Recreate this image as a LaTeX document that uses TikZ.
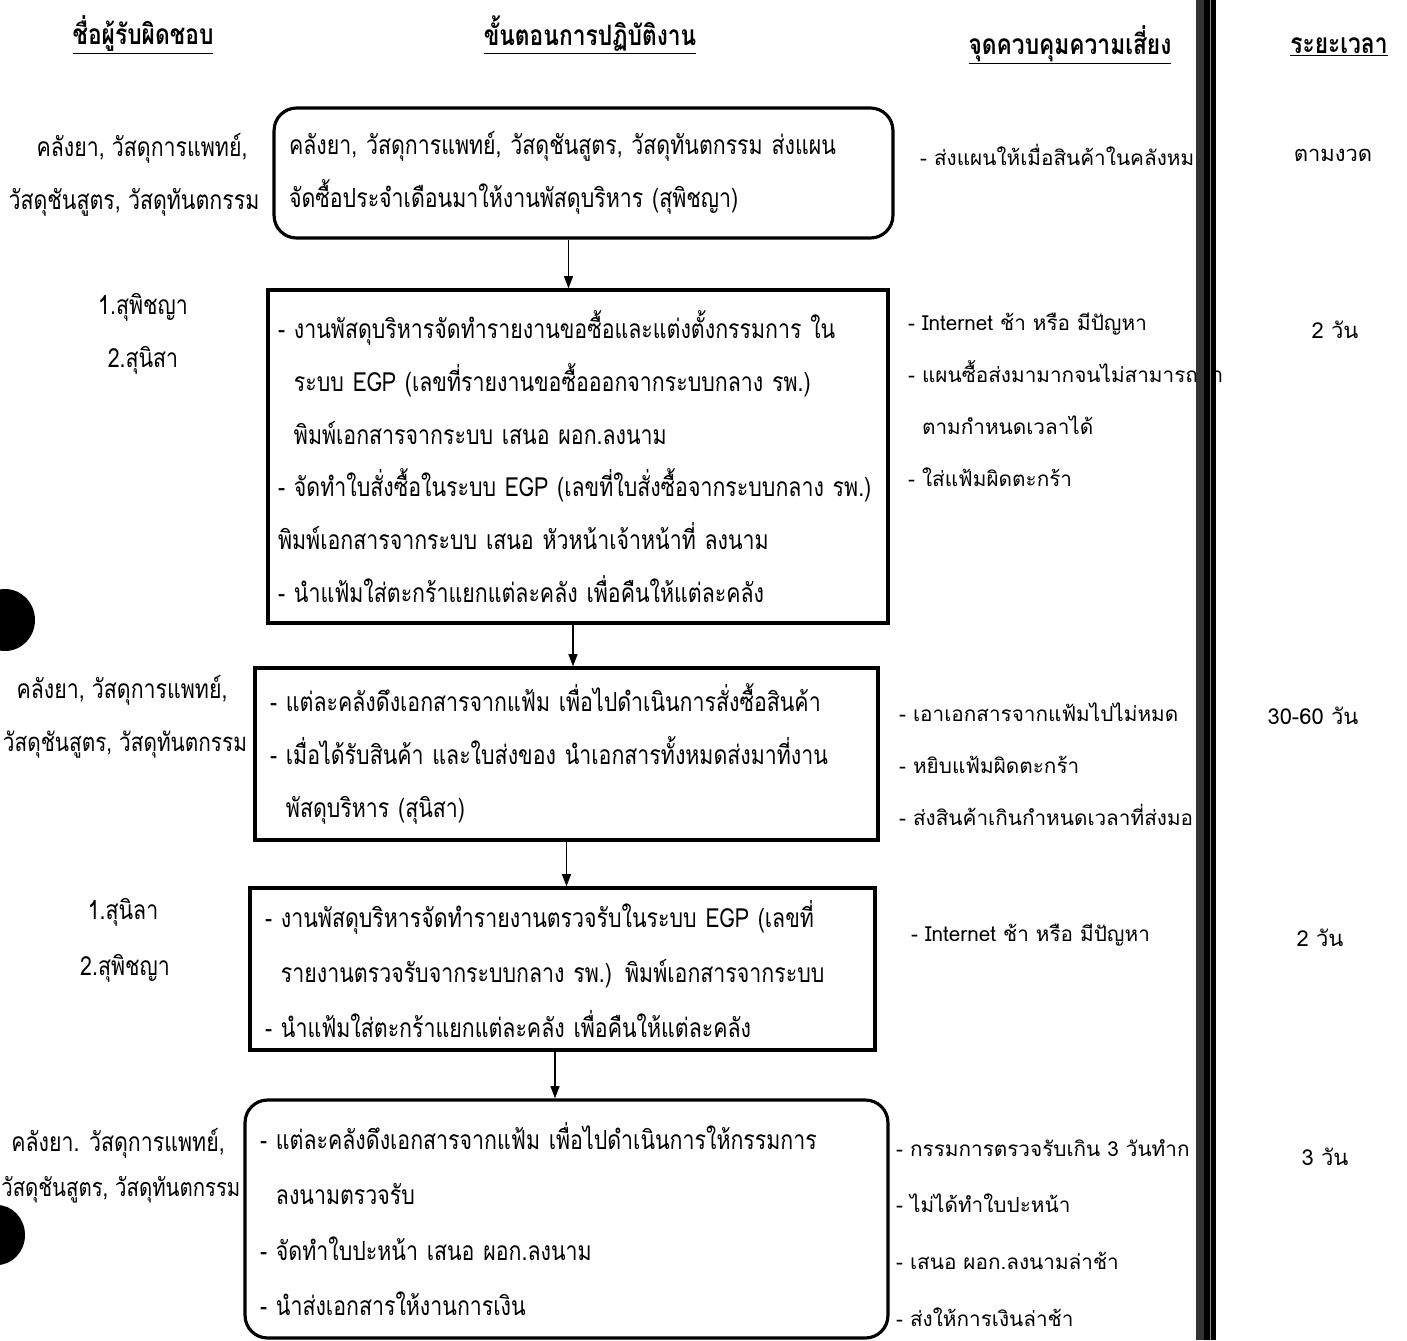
\documentclass[tikz,border=0pt]{standalone}
\usepackage{fontspec}
\setmainfont[Script=Thai]{Loma}
\newfontfamily\condfont[Script=Thai,FakeStretch=0.81]{Loma}
\usetikzlibrary{arrows.meta}
\tikzset{
  stepbox/.style={draw, line width=1.8pt, align=left, inner xsep=0.3cm,
    font=\condfont\fontsize{15}{30}\selectfont},
  roundbox/.style={stepbox, rounded corners=0.45cm},
  who/.style={font=\condfont\fontsize{15}{18}\selectfont},
  risk/.style={anchor=west, align=left, font=\fontsize{11.8}{29.6}\selectfont},
  period/.style={font=\fontsize{12.5}{16}\selectfont},
  head/.style={font=\condfont\bfseries\fontsize{16}{18}\selectfont},
  flow/.style={-{Triangle[length=7pt,width=5pt]}, line width=1.1pt},
}

\begin{document}
\begin{tikzpicture}[x=0.02cm, y=-0.02cm]
\useasboundingbox (0,0) rectangle (1407,1340);
% column headings
\node[head] (hWho) at (143,35) {\underline{ชื่อผู้รับผิดชอบ}};
\node[head] (hStep) at (590,35) {\underline{ขั้นตอนการปฏิบัติงาน}};
\node[head] (hRisk) at (1070,45) {\underline{จุดควบคุมความเสี่ยง}};
\node[head] (hTime) at (1339,47) {\underline{ระยะเวลา}};
% process steps
\node[roundbox, text width=11.78cm, minimum height=2.6cm] (b1) at (583.5,173)
  {คลังยา, วัสดุการแพทย์, วัสดุชันสูตร, วัสดุทันตกรรม ส่งแผน\\
   จัดซื้อประจำเดือนมาให้งานพัสดุบริหาร (สุพิชญา)};
\node[stepbox, text width=12.0cm, inner xsep=0.2cm, minimum height=6.66cm] (b2) at (578,456.5)
  {- งานพัสดุบริหารจัดทำรายงานขอซื้อและแต่งตั้งกรรมการ ใน\\
   \phantom{- }ระบบ EGP (เลขที่รายงานขอซื้อออกจากระบบกลาง รพ.)\\
   \phantom{- }พิมพ์เอกสารจากระบบ เสนอ ผอก.ลงนาม\\
   - จัดทำใบสั่งซื้อในระบบ EGP (เลขที่ใบสั่งซื้อจากระบบกลาง รพ.)\\
   พิมพ์เอกสารจากระบบ เสนอ หัวหน้าเจ้าหน้าที่ ลงนาม\\
   - นำแฟ้มใส่ตะกร้าแยกแต่ละคลัง เพื่อคืนให้แต่ละคลัง};
\node[stepbox, text width=11.86cm, minimum height=3.44cm] (b3) at (566.5,754)
  {- แต่ละคลังดึงเอกสารจากแฟ้ม เพื่อไปดำเนินการสั่งซื้อสินค้า\\
   - เมื่อได้รับสินค้า และใบส่งของ นำเอกสารทั้งหมดส่งมาที่งาน\\
   \phantom{- }พัสดุบริหาร (สุนิสา)};
\node[stepbox, text width=11.9cm, minimum height=3.24cm,
  font=\condfont\fontsize{15}{31.5}\selectfont] (b4) at (562.5,969)
  {- งานพัสดุบริหารจัดทำรายงานตรวจรับในระบบ EGP (เลขที่\\
   \phantom{- }รายงานตรวจรับจากระบบกลาง รพ.) พิมพ์เอกสารจากระบบ\\
   - นำแฟ้มใส่ตะกร้าแยกแต่ละคลัง เพื่อคืนให้แต่ละคลัง};
\node[roundbox, text width=12.26cm, minimum height=4.76cm,
  font=\condfont\fontsize{15}{31.5}\selectfont] (b5) at (566.5,1219)
  {- แต่ละคลังดึงเอกสารจากแฟ้ม เพื่อไปดำเนินการให้กรรมการ\\
   \phantom{- }ลงนามตรวจรับ\\
   - จัดทำใบปะหน้า เสนอ ผอก.ลงนาม\\
   - นำส่งเอกสารให้งานการเงิน};
% arrows
\draw[flow] ([xshift=-0.3cm]b1.south) -- ([xshift=-0.3cm]b1.south |- b2.north);
\draw[flow] ([xshift=-0.1cm]b2.south) -- ([xshift=-0.1cm]b2.south |- b3.north);
\draw[flow] (b3.south) -- (b3.south |- b4.north);
\draw[flow] ([xshift=-0.15cm]b4.south) -- ([xshift=-0.15cm]b4.south |- b5.north);
% responsible
\node[who] (w1a) at (142,148) {คลังยา, วัสดุการแพทย์,};
\node[who] (w1b) at (134,202) {วัสดุชันสูตร, วัสดุทันตกรรม};
\node[who] (w2a) at (143,307) {1.สุพิชญา};
\node[who] (w2b) at (143,360) {2.สุนิสา};
\node[who] (w3a) at (122,690) {คลังยา, วัสดุการแพทย์,};
\node[who, font=\condfont\fontsize{14.6}{18}\selectfont] (w3b) at (125,745) {วัสดุชันสูตร, วัสดุทันตกรรม};
\node[who] (w4a) at (123,912) {1.สุนิลา};
\node[who] (w4b) at (125,968) {2.สุพิชญา};
\node[who] (w5a) at (118,1143) {คลังยา. วัสดุการแพทย์,};
\node[who, anchor=west, inner xsep=0pt, font=\condfont\fontsize{14.3}{18}\selectfont] (w5b) at (1,1190) {วัสดุชันสูตร, วัสดุทันตกรรม};
% risks
\node[risk] (k1) at (914,155) {- ส่งแผนให้เมื่อสินค้าในคลังหม};
\node[risk] (k2) at (902,400)
  {- Internet ช้า หรือ มีปัญหา\\
   - แผนซื้อส่งมามากจนไม่สามารถทำ\\
   \phantom{- }ตามกำหนดเวลาได้\\
   - ใส่แฟ้มผิดตะกร้า};
\node[risk] (k3) at (893,764)
  {- เอาเอกสารจากแฟ้มไปไม่หมด\\
   - หยิบแฟ้มผิดตะกร้า\\
   - ส่งสินค้าเกินกำหนดเวลาที่ส่งมอ};
\node[risk] (k4) at (905,935) {- Internet ช้า หรือ มีปัญหา};
\node[risk, font=\fontsize{11.8}{32.4}\selectfont] (k5) at (890,1233)
  {- กรรมการตรวจรับเกิน 3 วันทำก\\
   - ไม่ได้ทำใบปะหน้า\\
   - เสนอ ผอก.ลงนามล่าช้า\\
   - ส่งให้การเงินล่าช้า};
% periods
\node[period] (t1) at (1333,155) {ตามงวด};
\node[period] (t2) at (1335,330) {2 วัน};
\node[period] (t3) at (1313,716) {30-60 วัน};
\node[period] (t4) at (1320,938) {2 วัน};
\node[period] (t5) at (1325,1157) {3 วัน};
% column rule
\fill[black!80] (1196,0) rectangle (1204,1340);
\fill (1204,0) rectangle (1216,1340);
\draw[black!45, line width=0.5pt] (1210,0) -- (1210,1340);
% punch holes
\fill (5,620) ellipse (0.6cm and 0.62cm);
\fill (-3,1235) ellipse (0.56cm and 0.6cm);
\end{tikzpicture}
\end{document}
